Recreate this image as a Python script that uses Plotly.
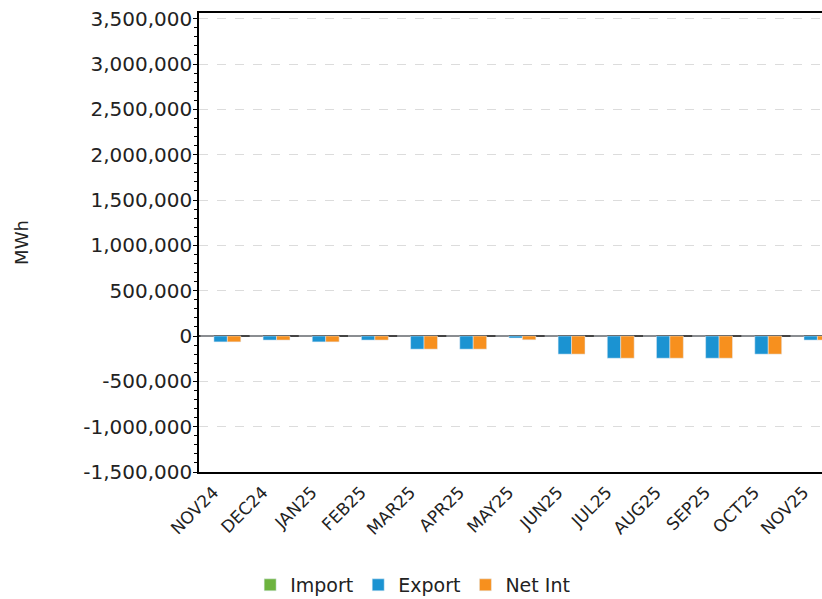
import plotly.graph_objects as go

months = ["NOV24", "DEC24", "JAN25", "FEB25", "MAR25", "APR25", "MAY25",
          "JUN25", "JUL25", "AUG25", "SEP25", "OCT25", "NOV25"]
import_vals = [0, 0, 0, 0, 0, 0, 0, 0, 0, 0, 0, 0, 0]
export_vals = [-65000, -45000, -65000, -45000, -145000, -145000, -22000,
               -200000, -245000, -245000, -245000, -200000, -45000]
net_vals = [-65000, -45000, -65000, -45000, -145000, -145000, -42000,
            -200000, -245000, -245000, -245000, -200000, -45000]
y_tick_vals = [-1500000, -1000000, -500000, 0, 500000, 1000000, 1500000,
               2000000, 2500000, 3000000, 3500000]
y_tick_text = ["-1,500,000", "-1,000,000", "-500,000", "0", "500,000", "1,000,000",
               "1,500,000", "2,000,000", "2,500,000", "3,000,000", "3,500,000"]

FONT = "DejaVu Sans"

fig = go.Figure()
fig.add_trace(go.Bar(name="Import", x=months, y=import_vals, marker_color="#6db33f"))
fig.add_trace(go.Bar(name="Export", x=months, y=export_vals, marker_color="#1b93d2"))
fig.add_trace(go.Bar(name="Net Int", x=months, y=net_vals, marker_color="#f7901e"))

fig.update_layout(
    width=822, height=599,
    margin=dict(l=199, r=0, t=13, b=127, autoexpand=False),
    paper_bgcolor="white", plot_bgcolor="white",
    barmode="group", bargap=0.18, bargroupgap=0,
    font=dict(family=FONT, size=17, color="#222"),
    showlegend=True,
    legend=dict(orientation="h", xref="container", yref="container",
                x=0.502, xanchor="center", y=0.0234, yanchor="middle",
                font=dict(size=19, color="#222"), itemwidth=30,
                traceorder="normal"),
)
fig.update_xaxes(
    type="category", range=[-0.44, 12.23], automargin=False,
    showline=True, linecolor="#000", linewidth=1.5, mirror=True,
    showgrid=False, ticks="", tickangle=-45, ticklabelshift=-7,
    ticklabelstandoff=2,
    tickfont=dict(size=17, color="#222"),
)
fig.update_yaxes(
    range=[-1500000, 3562500], automargin=False,
    tickmode="array", tickvals=y_tick_vals, ticktext=y_tick_text,
    ticklabeloverflow="allow", ticklabelstandoff=-3,
    showline=True, linecolor="#000", linewidth=1.5, mirror=True,
    ticks="outside", ticklen=4, tickcolor="#000",
    minor=dict(ticks="outside", ticklen=3, tickcolor="#000", dtick=100000,
               tick0=0, showgrid=False),
    showgrid=True, gridcolor="#dcdcdc", griddash="dash", gridwidth=1,
    zeroline=True, zerolinecolor="#444", zerolinewidth=2,
    tickfont=dict(size=20, color="#222"),
    title=dict(text="MWh", font=dict(size=18, color="#222"), standoff=50),
)

# remove the default page margin so the figure fills the window exactly
fig.write_html("out.html", config={"displayModeBar": False},
               post_script="document.body.style.margin='0';document.body.style.overflow='hidden';")
